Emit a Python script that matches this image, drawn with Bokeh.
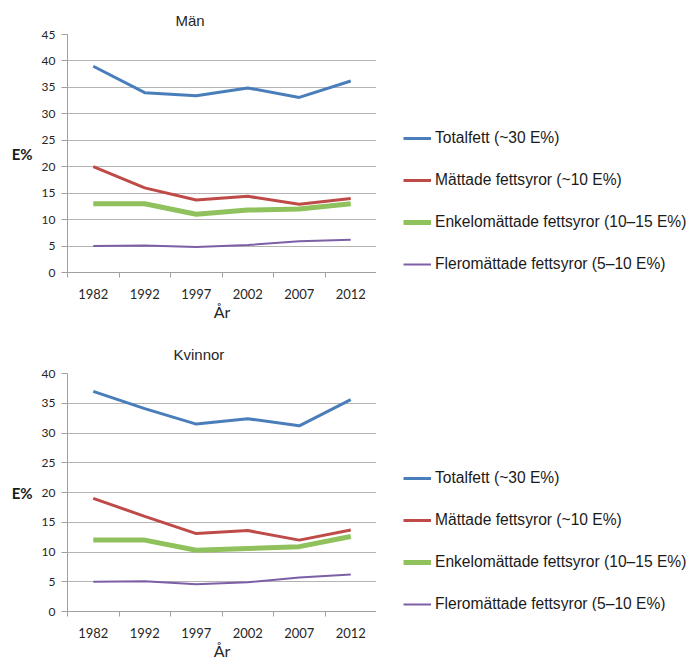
from bokeh.plotting import figure
from bokeh.layouts import column, row
from bokeh.models import FixedTicker, Legend, LegendItem, Range1d, Title
from bokeh.embed import file_html
from bokeh.resources import INLINE

years = ["1982", "1992", "1997", "2002", "2007", "2012"]

series_names = [
    "Totalfett (~30 E%)",
    "Mättade fettsyror (~10 E%)",
    "Enkelomättade fettsyror (10–15 E%)",
    "Fleromättade fettsyror (5–10 E%)",
]

man_total = [39.0, 34.0, 33.4, 34.9, 33.1, 36.2]
man_mattade = [20.0, 16.0, 13.7, 14.4, 12.9, 14.0]
man_enkel = [13.0, 13.0, 11.0, 11.8, 12.0, 13.0]
man_flero = [5.0, 5.1, 4.8, 5.2, 5.9, 6.2]

kv_total = [37.0, 34.1, 31.5, 32.4, 31.2, 35.6]
kv_mattade = [19.0, 16.0, 13.1, 13.6, 12.0, 13.7]
kv_enkel = [12.0, 12.0, 10.3, 10.6, 10.9, 12.6]
kv_flero = [5.0, 5.1, 4.6, 4.9, 5.7, 6.2]

colors = ["#4a7ebb", "#be4b48", "#8fc15d", "#7d5fa6"]
widths = [3, 3, 5, 2]

TICK_FONT = "Lato"
CHART_W = 376
LEGEND_W = 316


def make_chart(title, series, ymax, height, frame_top, frame_bottom, title_offset, title_standoff):
    p = figure(width=CHART_W, height=height, output_backend="svg", toolbar_location=None,
               x_range=Range1d(0, len(years)), y_range=Range1d(0, ymax),
               min_border_left=67, min_border_right=0,
               min_border_top=frame_top, min_border_bottom=frame_bottom)
    p.outline_line_color = None
    p.background_fill_color = "white"
    p.border_fill_color = "white"

    t = Title(text=title, align="left", offset=title_offset,
              text_font="Liberation Sans", text_font_size="15px",
              text_font_style="normal", text_color="#262626", standoff=title_standoff)
    p.add_layout(t, "above")

    centers = [i + 0.5 for i in range(len(years))]
    bounds = list(range(len(years) + 1))

    xa = p.xaxis[0]
    xa.ticker = FixedTicker(ticks=centers, minor_ticks=bounds)
    xa.major_label_overrides = {c: y for c, y in zip(centers, years)}
    xa.major_tick_out = 0
    xa.major_tick_in = 0
    xa.minor_tick_out = 5
    xa.minor_tick_in = 0
    xa.minor_tick_line_color = "#a0a0a0"
    xa.axis_line_color = "#a0a0a0"
    xa.major_label_text_font = TICK_FONT
    xa.major_label_text_font_size = "13px"
    xa.major_label_text_color = "#262626"
    xa.major_label_standoff = 11
    xa.axis_label = "År"
    xa.axis_label_text_font = TICK_FONT
    xa.axis_label_text_font_size = "16px"
    xa.axis_label_text_font_style = "normal"
    xa.axis_label_text_color = "#262626"
    xa.axis_label_standoff = 0

    ya = p.yaxis[0]
    ya.ticker = FixedTicker(ticks=list(range(0, ymax + 1, 5)))
    ya.minor_tick_line_color = None
    ya.major_tick_out = 6
    ya.major_tick_in = 0
    ya.major_tick_line_color = "#a0a0a0"
    ya.axis_line_color = "#a0a0a0"
    ya.major_label_text_font = TICK_FONT
    ya.major_label_text_font_size = "12px"
    ya.major_label_text_color = "#262626"
    ya.major_label_standoff = 6
    ya.axis_label = "E%"
    ya.axis_label_orientation = "horizontal"
    ya.axis_label_text_font = TICK_FONT
    ya.axis_label_text_font_size = "15px"
    ya.axis_label_text_font_style = "bold"
    ya.axis_label_text_color = "#1a1a1a"
    ya.axis_label_standoff = 6

    p.xgrid.grid_line_color = None
    p.ygrid.grid_line_color = "#b4b4b4"
    p.ygrid.grid_line_width = 1

    for vals, c, w in zip(series, colors, widths):
        p.line(centers, vals, line_color=c, line_width=w)
    return p


def make_legend(series, height, vy, spacing):
    # legend-only panel: the series are drawn against a range that keeps them
    # out of view, so only the legend swatches and labels are shown
    q = figure(width=LEGEND_W, height=height, output_backend="svg", toolbar_location=None,
               x_range=Range1d(0, len(years)), y_range=Range1d(1000, 1001),
               min_border=0)
    q.outline_line_color = None
    q.axis.visible = False
    q.grid.visible = False
    centers = [i + 0.5 for i in range(len(years))]
    items = []
    for name, vals, c, w in zip(series_names, series, colors, widths):
        r = q.line(centers, vals, line_color=c, line_width=w)
        items.append(LegendItem(label=name, renderers=[r]))
    leg = Legend(items=items, location=(27, vy), orientation="vertical",
                 border_line_color=None, background_fill_alpha=0,
                 label_text_font="Liberation Sans", label_text_font_size="15.6px",
                 label_text_color="#1a1a1a", glyph_width=28, glyph_height=20,
                 label_height=20, label_standoff=4, spacing=spacing, padding=0, margin=0)
    q.add_layout(leg, "center")
    return q


man = [man_total, man_mattade, man_enkel, man_flero]
kv = [kv_total, kv_mattade, kv_enkel, kv_flero]

top = make_chart("Män", man, 45, 330, 34, 58, 108, 11)
bottom = make_chart("Kvinnor", kv, 40, 332, 43, 51, 106, 22)

layout = column(row(top, make_legend(man, 330, -2, 22), spacing=0),
                row(bottom, make_legend(kv, 332, -3, 22), spacing=0), spacing=0)
open("out.html", "w").write(file_html(layout, INLINE))
